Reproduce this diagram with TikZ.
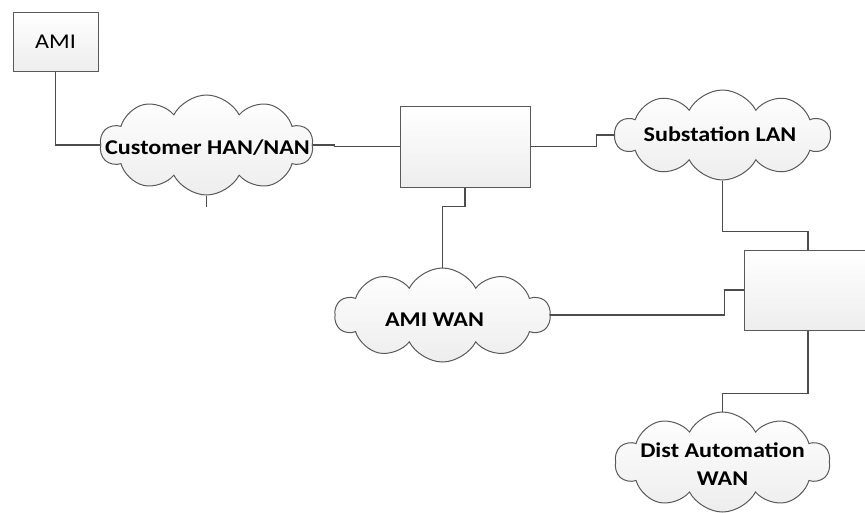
\documentclass[tikz,border=0pt]{standalone}
\usepackage{fontspec}
\setmainfont[FakeStretch=1.15]{Carlito}
\usetikzlibrary{shapes.symbols}
\tikzset{
  netbox/.style={draw=gray!70!black, line width=1pt, top color=white, bottom color=gray!14, inner sep=0pt},
  netcloud/.style={cloud, cloud puffs=10, cloud puff arc=125, cloud ignores aspect, draw=gray!70!black, line width=1pt, top color=white, bottom color=gray!14, inner sep=0pt},
  netlabel/.style={font=\fontsize{21}{27.5}\selectfont\bfseries, align=center, inner sep=0pt},
  link/.style={draw=gray!60!black, line width=1.1pt}
}
\begin{document}
\begin{tikzpicture}[x=1pt, y=-1pt]
  \useasboundingbox (0,0) rectangle (865,512);
  \node[netbox, minimum width=85, minimum height=59, font=\fontsize{21}{24}\selectfont] (ami) at (55.5,41.5) {AMI};
  \node[netbox, minimum width=130, minimum height=81] (ctr) at (465,146.5) {};
  \node[netbox, minimum width=128, minimum height=80] (rbox) at (808,290) {};
  \node[netcloud, minimum width=213, minimum height=100] (han) at (206.5,145) {};
  \node[netcloud, minimum width=215, minimum height=90] (sub) at (722.5,135) {};
  \node[netcloud, minimum width=215, minimum height=94] (amiwan) at (442.5,315) {};
  \node[netcloud, minimum width=215, minimum height=100] (dist) at (722.5,462) {};
  \node[netlabel] (hanlbl) at (207.5,148) {Customer HAN/NAN};
  \node[netlabel] (sublbl) at (720,134.5) {Substation LAN};
  \node[netlabel] (amiwanlbl) at (434.5,320) {AMI WAN};
  \node[netlabel] (distlbl) at (722.5,464) {Dist Automation\\WAN};
  \coordinate (stub) at (206.5,207);
  \draw[link] (ami.south) |- (han.west);
  \draw[link] (han.east) -- ++(22,0) |- (ctr.west);
  \draw[link] (han.south) -- (stub);
  \draw[link] (ctr.east) -- ++(66,0) |- (sub.west);
  \draw[link] (ctr.south) -- ++(0,19) -| (amiwan.north);
  \draw[link] (amiwan.east) -- ++(174,0) |- (rbox.west);
  \draw[link] (sub.south) -- ++(0,51) -| (rbox.north);
  \draw[link] (rbox.south) -- ++(0,63) -| (dist.north);
\end{tikzpicture}
\end{document}
